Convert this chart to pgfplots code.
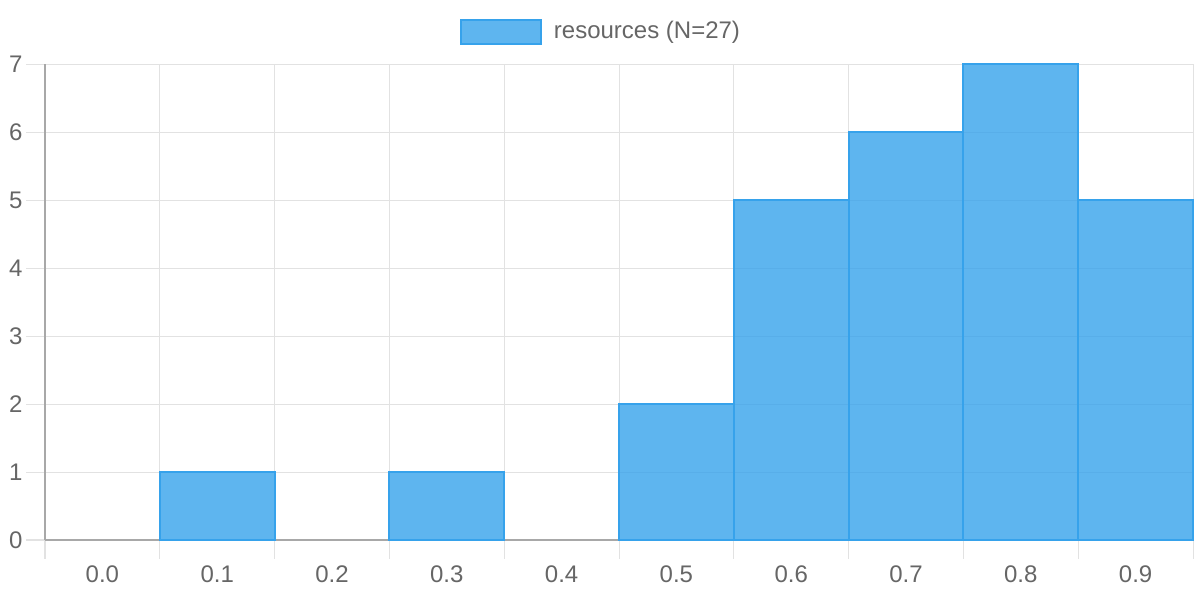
\documentclass[border=0pt]{standalone}
\usepackage{pgfplots}
\pgfplotsset{compat=1.18}
\usepackage{fontspec}
\setmainfont{Liberation Sans}
\definecolor{barc}{HTML}{36A2EB}
\definecolor{gridc}{HTML}{E2E2E2}
\definecolor{axc}{HTML}{A8A8A8}
\definecolor{txt}{HTML}{666666}
\begin{document}
\fontsize{12}{14}\selectfont
\begin{tikzpicture}
\path[use as bounding box] (-22.5pt,-30pt) rectangle (577.5pt,270pt);
\begin{axis}[
  at={(0pt,0pt)}, anchor=south west,
  scale only axis, width=574pt, height=238pt,
  xmin=0, xmax=10, ymin=0, ymax=7,
  clip=false,
  axis x line*=bottom, axis y line*=left,
  axis line style={axc, line width=0.6pt, -},
  xtick={0,...,10}, xticklabels={,,,,,,,,,,},
  extra x ticks={0.5,1.5,...,9.5},
  extra x tick labels={0.0,0.1,0.2,0.3,0.4,0.5,0.6,0.7,0.8,0.9},
  extra x tick style={grid=none, tick style={draw=none}},
  ytick={0,...,7},
  grid=major, grid style={gridc, line width=0.5pt},
  major tick length=9.5pt, tick align=outside,
  tick style={gridc, line width=0.5pt},
  ticklabel style={font=\fontsize{12}{14}\selectfont, text=txt},
  /pgf/number format/assume math mode=true,
  yticklabel style={inner sep=1.5pt},
  xticklabel style={inner sep=0pt, yshift=-3pt},
  legend style={at={(0.5,1)}, anchor=south, xshift=-9.5pt, yshift=9.5pt,
    draw=none, fill=none, inner sep=0pt,
    font=\fontsize{12}{14}\selectfont, text=txt,
    nodes={inner sep=0pt},
    /tikz/every odd column/.append style={column sep=6pt}},
  legend image code/.code={\draw[fill=barc, fill opacity=0.8, draw=barc, line width=1pt] (0pt,-6pt) rectangle (40pt,6pt);},
]
\addplot[ybar, bar width=1, bar shift=0pt, fill=barc, fill opacity=0.8, draw=barc, line width=1pt]
  coordinates {(1.5,1) (3.5,1) (5.5,2) (6.5,5) (7.5,6) (8.5,7) (9.5,5)};
\addlegendentry{resources (N=27)}
\end{axis}
\end{tikzpicture}
\end{document}
